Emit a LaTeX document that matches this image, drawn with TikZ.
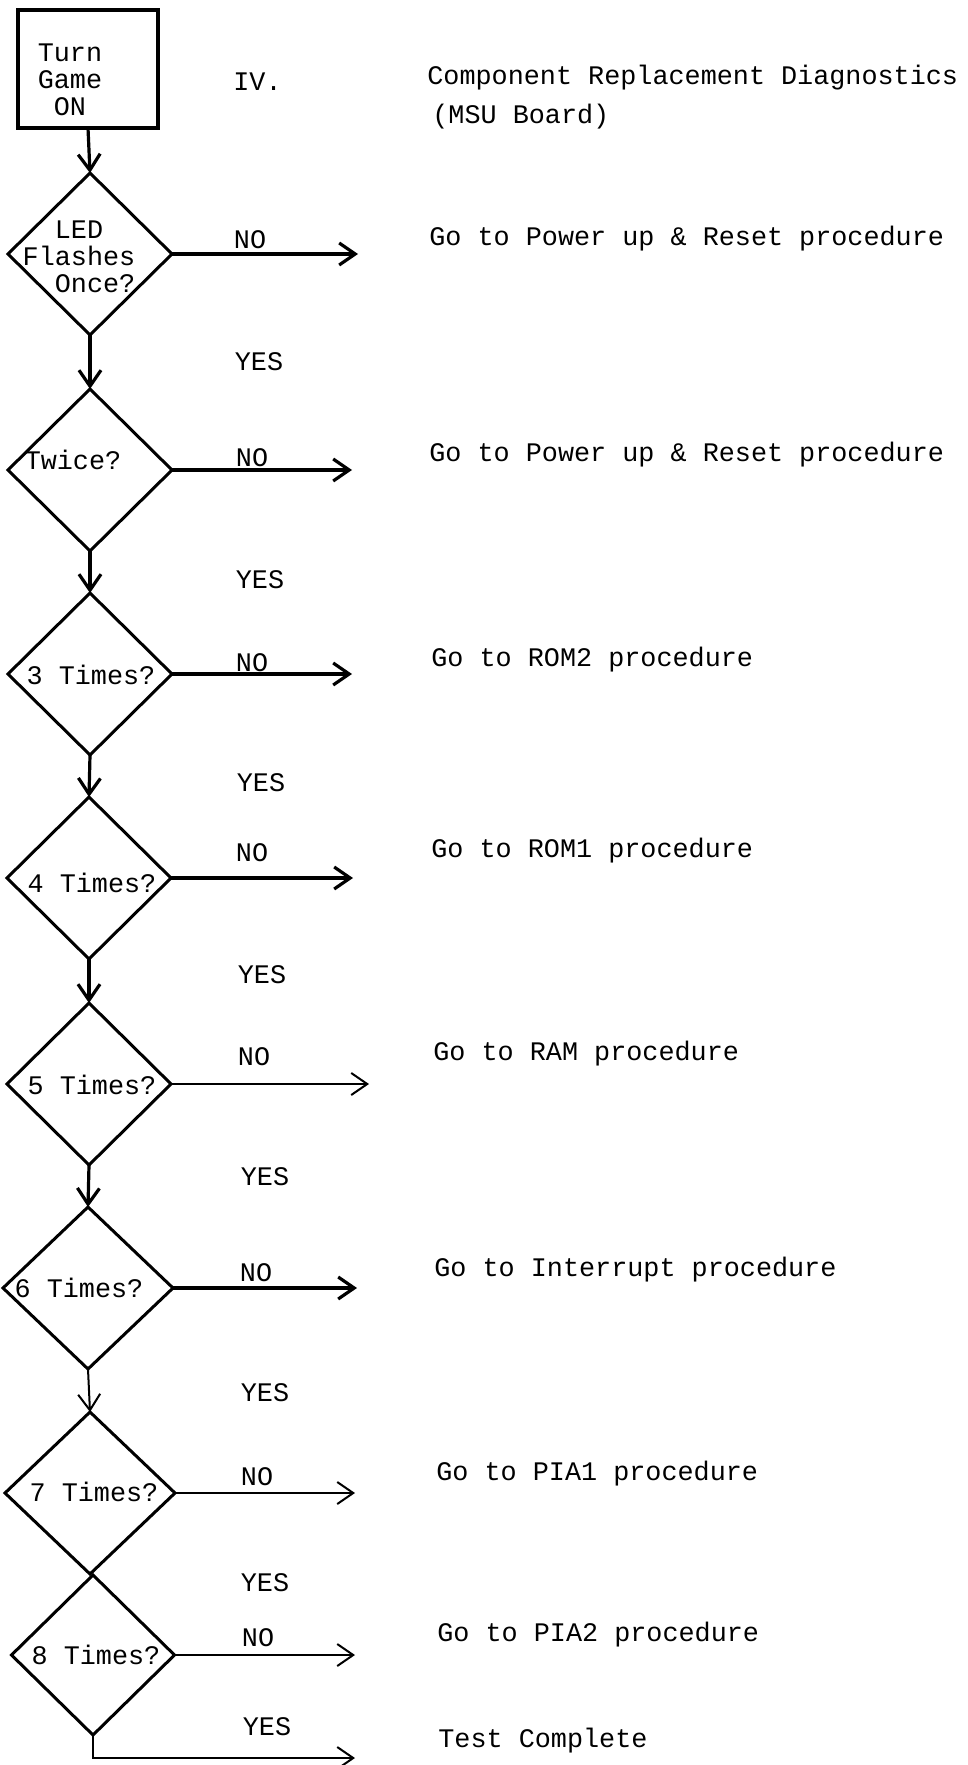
\documentclass[tikz,border=0pt]{standalone}
\usepackage{fontspec}
\setmonofont{Liberation Mono}
\usetikzlibrary{shapes.geometric}
\usetikzlibrary{arrows.meta}
\newcommand{\typefont}{\ttfamily\fontsize{13.4}{13.6}\selectfont}

\tikzset{
  decision/.style={diamond, draw, line width=1.5pt, inner sep=0pt, outer sep=0pt,
    minimum width=82pt, minimum height=81pt},
  startbox/.style={rectangle, draw, line width=1.8pt, inner sep=0pt, outer sep=0pt,
    minimum width=70pt, minimum height=59pt},
  flow/.style={line width=1.6pt, -{Straight Barb[length=8pt,width=11pt]}},
  flowthin/.style={line width=1pt, -{Straight Barb[length=8pt,width=11pt]}},
  answer/.style={font=\typefont},
  note/.style={font=\typefont, anchor=west, inner xsep=0pt},
}

\begin{document}
\begin{tikzpicture}[x=0.5pt, y=-0.5pt]
    \useasboundingbox (0,0) rectangle (968,1765);

    % 开始
    \node[startbox] (start) at (88,69) {};
    \node[answer, align=center] (starttxt) at (70,80) {Turn\\Game\\ON};
    \node[note] (part) at (233,82) {IV.};
    \node[note] (title) at (427,78) {Component Replacement Diagnostics};
    \node[note] (board) at (432,117) {(MSU Board)};

    % 判断框
    \node[decision] (d1) at (90,254) {};
    \node[decision] (d2) at (90,470) {};
    \node[decision] (d3) at (90,674) {};
    \node[decision] (d4) at (89,878) {};
    \node[decision] (d5) at (89,1084) {};
    \node[decision, minimum width=85pt] (d6) at (88,1288) {};
    \node[decision, minimum width=85pt] (d7) at (90,1493) {};
    \node[decision, minimum width=81.5pt, minimum height=80pt] (d8) at (93,1655) {};

    \node[answer, align=left] (q1) at (79,257) {\hphantom{Fl}LED\\Flashes\\\hphantom{Fl}Once?};
    \node[answer] (q2) at (73,460) {Twice?};
    \node[answer] (q3) at (91,675) {3 Times?};
    \node[answer] (q4) at (92,883) {4 Times?};
    \node[answer] (q5) at (92,1085) {5 Times?};
    \node[answer] (q6) at (79,1288) {6 Times?};
    \node[answer] (q7) at (94,1492) {7 Times?};
    \node[answer] (q8) at (96,1655) {8 Times?};

    % 向下 (YES)
    \draw[flow] (start.south) -- (d1.north);
    \draw[flow] (d1.south) -- (d2.north);
    \draw[flow] (d2.south) -- (d3.north);
    \draw[flow] (d3.south) -- (d4.north);
    \draw[flow] (d4.south) -- (d5.north);
    \draw[flow] (d5.south) -- (d6.north);
    \draw[flowthin] (d6.south) -- (d7.north);

    \node[answer] (y1) at (259,362) {YES};
    \node[answer] (y2) at (260,580) {YES};
    \node[answer] (y3) at (261,783) {YES};
    \node[answer] (y4) at (262,975) {YES};
    \node[answer] (y5) at (265,1177) {YES};
    \node[answer] (y6) at (265,1393) {YES};
    \node[answer] (y7) at (265,1583) {YES};
    \node[answer] (y8) at (267,1727) {YES};

    % 向右 (NO)
    \coordinate (n1) at (358,254);
    \coordinate (n2) at (352,470);
    \coordinate (n3) at (352,674);
    \coordinate (n4) at (353,878);
    \coordinate (n5) at (369,1084);
    \coordinate (n6) at (357,1288);
    \coordinate (n7) at (355,1493);
    \coordinate (n8) at (355,1655);
    \coordinate (done) at (355,1758);

    \draw[flow] (d1.east) -- (n1);
    \draw[flow] (d2.east) -- (n2);
    \draw[flow] (d3.east) -- (n3);
    \draw[flow] (d4.east) -- (n4);
    \draw[flowthin] (d5.east) -- (n5);
    \draw[flow] (d6.east) -- (n6);
    \draw[flowthin] (d7.east) -- (n7);
    \draw[flowthin] (d8.east) -- (n8);
    \draw[flowthin] (d8.south) |- (done);

    \node[answer] (no1) at (250,240) {NO};
    \node[answer] (no2) at (252,458) {NO};
    \node[answer] (no3) at (252,663) {NO};
    \node[answer] (no4) at (252,853) {NO};
    \node[answer] (no5) at (254,1057) {NO};
    \node[answer] (no6) at (256,1273) {NO};
    \node[answer] (no7) at (257,1477) {NO};
    \node[answer] (no8) at (258,1638) {NO};

    % 右侧说明
    \node[note] (t1) at (429,239) {Go to Power up \& Reset procedure};
    \node[note] (t2) at (429,455) {Go to Power up \& Reset procedure};
    \node[note] (t3) at (431,660) {Go to ROM2 procedure};
    \node[note] (t4) at (431,851) {Go to ROM1 procedure};
    \node[note] (t5) at (433,1054) {Go to RAM procedure};
    \node[note] (t6) at (434,1270) {Go to Interrupt procedure};
    \node[note] (t7) at (436,1474) {Go to PIA1 procedure};
    \node[note] (t8) at (437,1635) {Go to PIA2 procedure};
    \node[note] (t9) at (438,1741) {Test Complete};

\end{tikzpicture}
\end{document}
